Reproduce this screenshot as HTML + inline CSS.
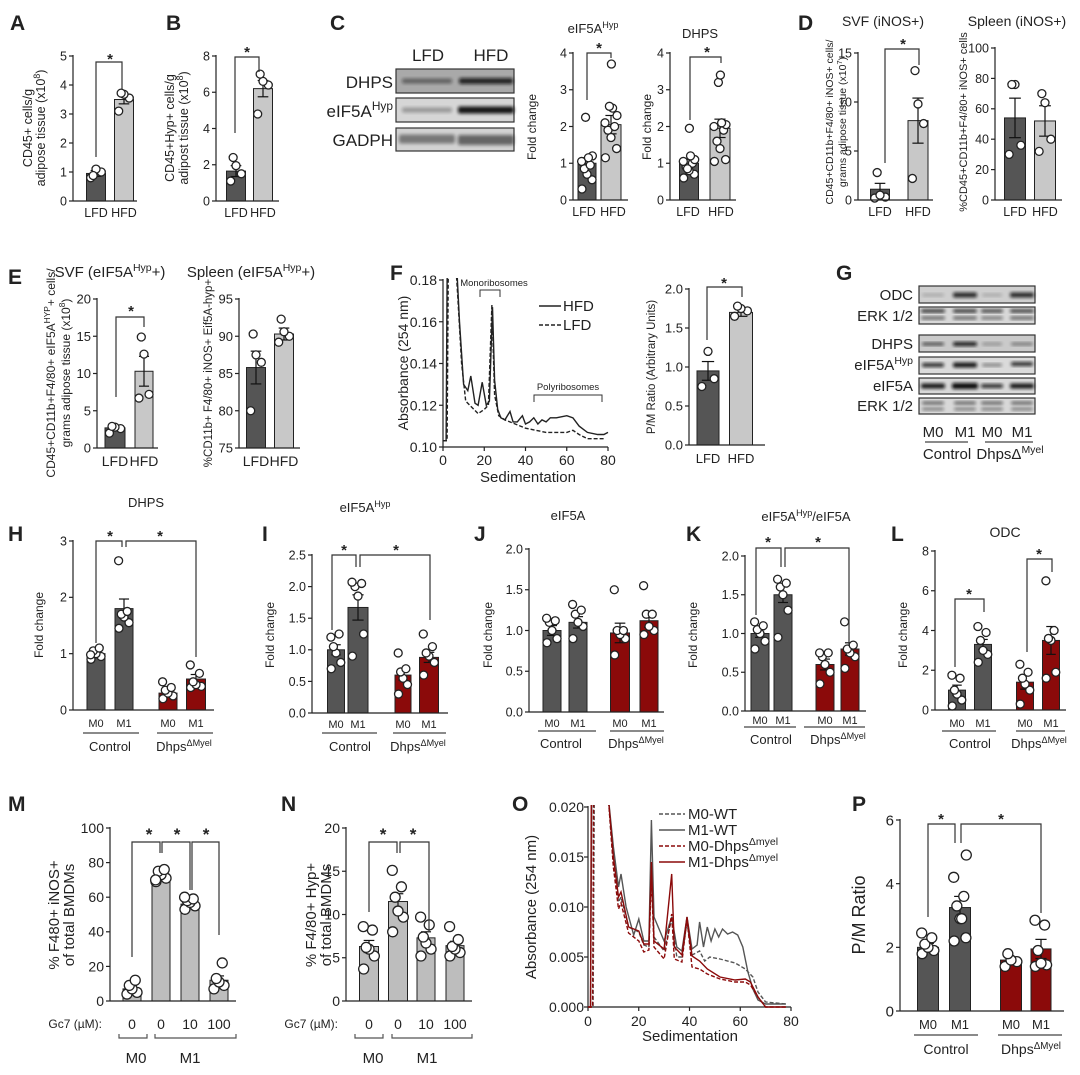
<!DOCTYPE html>
<html><head><meta charset="utf-8"><style>
html,body{margin:0;padding:0;background:#fff}
svg{display:block;font-family:"Liberation Sans",Arial,sans-serif}
</style></head><body>
<svg id="s" xmlns="http://www.w3.org/2000/svg" width="1080" height="1075" viewBox="0 0 1080 1075">
<defs>
<filter id="bl" x="-20%" y="-50%" width="140%" height="200%"><feGaussianBlur stdDeviation="1.6"/></filter>
<clipPath id="cf"><rect x="443" y="278" width="170" height="170"/></clipPath>
<clipPath id="co"><rect x="588" y="805" width="206" height="203"/></clipPath>
</defs>
<rect width="1080" height="1075" fill="#fff"/>
<g id="g"></g>
</svg>
<script>
const S=[];const DK='#555',LT='#c8c8c8',RD='#8b0a0a',MG='#bdbdbd';
function sup(s){return '<tspan baseline-shift="super" font-size="70%">'+s+'</tspan>'}
function T(x,y,s,fs,anc,rot,w){anc=anc||'middle';S.push('<text x="'+x+'" y="'+y+'" font-size="'+fs+'" text-anchor="'+anc+'"'+(w?' font-weight="bold"':'')+(rot?' transform="rotate(-90 '+x+' '+y+')"':'')+' fill="#222">'+s+'</text>')}
function Ln(x1,y1,x2,y2,sw,c,d){S.push('<line x1="'+x1+'" y1="'+y1+'" x2="'+x2+'" y2="'+y2+'" stroke="'+(c||'#222')+'" stroke-width="'+(sw||1)+'"'+(d?' stroke-dasharray="'+d+'"':'')+'/>')}
function Lt(x,y,s){T(x,y,s,21,'start',false,true)}
const DX=[-0.28,0.28,0,-0.15,0.18,-0.3,0.3,0.08,-0.08,0.02];
function chart(o){
 const v0=o.v0||0,fs=o.fs||12.5,r=o.r||4;
 const Y=v=>o.y0-(v-v0)/(o.v1-v0)*(o.y0-o.yt);
 o.bars.forEach(b=>{const[cx,w,v,e,col,pts]=b;const y=Y(v);
  S.push('<rect x="'+(cx-w/2)+'" y="'+y+'" width="'+w+'" height="'+(o.y0-y)+'" fill="'+col+'" stroke="#222" stroke-width="1"/>');
  const ya=Y(v+e),yb=Y(Math.max(v0,v-e));Ln(cx,ya,cx,yb,1.2,'#111');Ln(cx-w*0.28,ya,cx+w*0.28,ya,1.2,'#111');Ln(cx-w*0.28,yb,cx+w*0.28,yb,1.2,'#111');
  pts.forEach((p,i)=>{S.push('<circle cx="'+(cx+DX[i%10]*w)+'" cy="'+Y(p)+'" r="'+r+'" fill="#fff" stroke="#222" stroke-width="1.3"/>')});
 });
 Ln(o.ax,o.yt-1,o.ax,o.y0,1.2);Ln(o.ax,o.y0,o.xe,o.y0,1.2);
 o.ticks.forEach(t=>{const y=Y(t);Ln(o.ax-4,y,o.ax,y,1.2);T(o.ax-6,y+fs*0.35,o.fmt?t.toFixed(o.fmt):t,fs,'end')});
 (o.xl||[]).forEach(l=>T(l[0],o.xly,l[1],o.xlfs||12.5));
 (o.br||[]).forEach(b=>{S.push('<path d="M'+b[0]+' '+b[1]+'V'+b[4]+'H'+b[2]+'V'+b[3]+'" fill="none" stroke="#333" stroke-width="1.2"/>');T(b[5],b[6]+6,'*',o.sfs||15,'middle',false,true)});
 (o.ul||[]).forEach(u=>Ln(u[0],o.uly,u[1],o.uly,1.3,'#444'));
 (o.gl||[]).forEach(g=>T(g[0],o.gly,g[1],o.glfs||13));
}
function blot(x,y1,y2,w,bg,bands){S.push('<rect x="'+x+'" y="'+y1+'" width="'+w+'" height="'+(y2-y1)+'" fill="'+bg+'" stroke="#333" stroke-width="1.2"/>');
 bands.forEach(b=>{S.push('<rect x="'+(b[0]-b[1]/2)+'" y="'+(b[2]-b[3]/2)+'" width="'+b[1]+'" height="'+b[3]+'" rx="2" fill="#111" opacity="'+b[4]+'" filter="url(#bl)"/>')});}
function curve(pts,mx,my,col,dash,sw,clip){S.push('<polyline clip-path="url(#'+clip+')" points="'+pts.map(p=>mx(p[0]).toFixed(1)+','+my(p[1]).toFixed(1)).join(' ')+'" fill="none" stroke="'+col+'" stroke-width="'+(sw||1.4)+'"'+(dash?' stroke-dasharray="'+dash+'"':'')+'/>')}
const DH='Dhps'+sup('ΔMyel');

/* Letters */
Lt(10,30,'A');Lt(166,30,'B');Lt(330,30,'C');Lt(798,30,'D');Lt(8,284,'E');Lt(390,280,'F');Lt(836,280,'G');
Lt(8,541,'H');Lt(262,541,'I');Lt(474,541,'J');Lt(686,541,'K');Lt(891,541,'L');Lt(8,811,'M');Lt(281,811,'N');Lt(512,811,'O');Lt(852,811,'P');

/* A */
chart({ax:73,y0:201,yt:56,v1:5,ticks:[0,1,2,3,4,5],xe:137,bars:[[96,19,0.95,0.1,DK,[0.8,1.0,1.1,0.88]],[124,19,3.5,0.15,LT,[3.1,3.55,3.68,3.72]]],xl:[[96,'LFD'],[124,'HFD']],xly:217,br:[[96,157,122,89,62,110,58]]});
T(32,128,'CD45+ cells/g',12.5,'middle',true);T(45,128,'adipose tissue (x10'+sup('8')+')',12.5,'middle',true);
/* B */
chart({ax:216,y0:201,yt:56,v1:8,ticks:[0,2,4,6,8],xe:279,bars:[[236,19,1.65,0.3,DK,[1.1,1.5,1.95,2.4]],[263,19,6.2,0.45,LT,[4.8,6.4,6.6,7.0]]],xl:[[236,'LFD'],[263,'HFD']],xly:217,br:[[235,133,259,72,57,247,51]]});
T(174,128,'CD45+Hyp+ cells/g',12.5,'middle',true);T(188,128,'adipost tissue (x10'+sup('8')+')',12.5,'middle',true);
/* C blot */
T(428,61,'LFD',17);T(491,61,'HFD',17);
blot(396,69,93,118,'#a9a9a9',[[427,50,81,5,0.45],[486,54,81,6,0.85]]);
blot(396,98,122,118,'#d6d6d6',[[427,50,110,5,0.3],[486,56,110,7,0.95]]);
blot(396,128,151,118,'#d2d2d2',[[427,56,139,9,0.45],[486,56,140,10,0.55]]);
T(393,88,'DHPS',17,'end');T(393,117,'eIF5A'+sup('Hyp'),17,'end');T(393,146,'GADPH',17,'end');
/* C charts */
chart({ax:573,y0:200,yt:53,v1:4,ticks:[0,1,2,3,4],xe:628,bars:[[587,18,1.0,0.15,DK,[0.3,0.55,0.7,0.85,0.95,1.05,1.2,1.15,2.25]],[611,20,2.05,0.25,LT,[1.15,1.4,1.7,1.9,2.0,2.1,2.3,2.5,2.55,3.7]]],xl:[[584,'LFD'],[613,'HFD']],xly:216,br:[[587,100,611,58,53,599,47]]});
T(536,127,'Fold change',12,'middle',true);T(593,33,'eIF5A'+sup('Hyp'),13);
chart({ax:670,y0:200,yt:53,v1:4,ticks:[0,1,2,3,4],xe:736,bars:[[689,19,1.0,0.1,DK,[0.6,0.7,0.8,0.9,1.0,1.05,1.1,1.2,0.85,1.95]],[720,20,1.95,0.25,LT,[1.05,1.1,1.4,1.6,1.9,2.0,2.05,2.1,3.2,3.4]]],xl:[[688,'LFD'],[721,'HFD']],xly:216,br:[[690,120,721,63,57,707,51]]});
T(651,127,'Fold change',12,'middle',true);T(700,38,'DHPS',13);
/* D */
chart({ax:858,y0:200,yt:53,v1:15,ticks:[0,5,10,15],xe:933,bars:[[880,19,1.1,0.6,DK,[0.2,0.3,0.5,2.8]],[918,20,8.1,2.3,LT,[2.2,7.8,9.8,13.2]]],xl:[[880,'LFD'],[918,'HFD']],xly:216,br:[[885,163,919,65,49,903,43]]});
T(833,122,'CD45+CD11b+F4/80+ iNOS+ cells/',10.5,'middle',true);T(846,122,'grams adipose tissue (x10'+sup('7')+')',10.5,'middle',true);T(883,26,'SVF (iNOS+)',14);
chart({ax:995,y0:200,yt:48,v1:100,ticks:[0,20,40,60,80,100],xe:1062,bars:[[1015,21,54,13,DK,[30,36,76,76]],[1045,21,52,10,LT,[32,40,64,70]]],xl:[[1015,'LFD'],[1045,'HFD']],xly:216});
T(967,122,'%CD45+CD11b+F4/80+ iNOS+ cells',11,'middle',true);T(1017,26,'Spleen (iNOS+)',14);
/* E */
chart({ax:97,y0:448,yt:299,v1:20,ticks:[0,5,10,15,20],xe:158,fs:13,bars:[[115,20,2.7,0.3,DK,[2.0,2.6,2.8,2.9]],[144,18,10.3,2,LT,[6.7,7.2,12.6,14.9]]],xl:[[115,'LFD'],[144,'HFD']],xly:466,xlfs:14,br:[[116,397,144,327,317,131,310]]});
T(55,373,'CD45+CD11b+F4/80+ eIF5A'+sup('HYP')+'+ cells/',12,'middle',true);T(70,373,'grams adipose tissue (x10'+sup('8')+')',12,'middle',true);T(110,277,'SVF (eIF5A'+sup('Hyp')+'+)',15);
chart({ax:239,y0:448,yt:299,v0:75,v1:95,ticks:[75,80,85,90,95],xe:300,fs:13,bars:[[256,19,85.8,2.2,DK,[80,86.5,87.5,90.3]],[284,19,90.3,0.8,LT,[89.2,90,90.6,92.3]]],xl:[[256,'LFD'],[284,'HFD']],xly:466,xlfs:14});
T(212,373,'%CD11b+ F4/80+ iNOS+ Eif5A-hyp+',11.5,'middle',true);T(251,277,'Spleen (eIF5A'+sup('Hyp')+'+)',15);
/* F */
{const mx=v=>443+v*2.0625,my=v=>447-(v-0.10)/0.08*167;
Ln(443,279,443,447,1.2);Ln(443,447,608,447,1.2);
[0.10,0.12,0.14,0.16,0.18].forEach(t=>{Ln(439,my(t),443,my(t),1.2);T(437,my(t)+5,t.toFixed(2),14,'end')});
[0,20,40,60,80].forEach(t=>{Ln(mx(t),447,mx(t),451,1.2);T(mx(t),465,t,14)});
const H=[[0,0.103],[1.5,0.103],[2,0.18],[2.4,0.19],[6.5,0.19],[7,0.18],[8,0.16],[10,0.13],[12,0.127],[13.5,0.134],[15.5,0.121],[17,0.12],[19,0.131],[21,0.12],[22.5,0.122],[24,0.167],[25,0.132],[26.5,0.118],[28,0.114],[30,0.113],[32.5,0.117],[34,0.112],[36,0.112],[38.5,0.115],[40,0.111],[42,0.112],[44,0.114],[46,0.111],[48,0.113],[50,0.112],[52,0.114],[55,0.114],[60,0.115],[63,0.114],[66,0.11],[70,0.107],[75,0.106],[78,0.106],[80,0.107]];
const Lf=[[0,0.103],[2,0.103],[2.5,0.18],[2.8,0.19],[6,0.19],[7,0.175],[9,0.14],[11,0.122],[13,0.12],[15,0.118],[17,0.116],[20,0.118],[22,0.12],[23.7,0.168],[25,0.125],[27,0.115],[30,0.113],[35,0.111],[40,0.109],[45,0.108],[50,0.107],[55,0.107],[60,0.107],[63,0.108],[66,0.106],[70,0.104],[78,0.104]];
curve(H,mx,my,'#222','',1.4,'cf');curve(Lf,mx,my,'#222','4 2',1.4,'cf');
Ln(539,306,561,306,1.4);T(563,311,'HFD',15,'start');Ln(539,325,561,325,1.4,'#222','4 2');T(563,330,'LFD',15,'start');
S.push('<path d="M480 297V290H500V297" fill="none" stroke="#333"/>');T(494,286,'Monoribosomes',9.5);
S.push('<path d="M534 402V395H602V402" fill="none" stroke="#333"/>');T(568,390,'Polyribosomes',9.5);
T(408,363,'Absorbance (254 nm)',14,'middle',true);T(528,482,'Sedimentation',15);}
chart({ax:689,y0:445,yt:289,v1:2,fmt:1,ticks:[0,0.5,1,1.5,2],xe:765,fs:13,bars:[[708,22,0.95,0.12,DK,[0.75,0.85,1.2]],[741,23,1.7,0.05,LT,[1.65,1.72,1.75,1.78]]],xl:[[708,'LFD'],[741,'HFD']],xly:463,xlfs:13,br:[[707,340,742,297,287,724,282]]});
T(655,367,'P/M Ratio (Arbitrary Units)',11.5,'middle',true);
/* G */
{const X=[933,965,992,1022];
blot(919,286,303,116,'#cfcfcf',[[933,22,295,3,0.2],[965,24,295,5,0.85],[992,20,295,3,0.2],[1022,24,295,5,0.85]]);
blot(919,307,324,116,'#d8d8d8',[[933,24,311,3,0.9],[965,24,311,3,0.9],[992,22,311,3,0.8],[1022,24,311,3,0.85],[933,24,318,3,0.6],[965,24,318,3,0.6],[992,22,318,3,0.5],[1022,24,318,3,0.6]]);
blot(919,335,352,116,'#cacaca',[[933,22,344,3,0.7],[965,24,344,4,0.95],[992,20,344,3,0.3],[1022,22,344,3,0.45]]);
blot(919,357,374,116,'#dadada',[[933,22,365,4,0.85],[965,24,365,5,0.95],[992,20,365,3,0.45],[1022,22,364,4,0.85]]);
blot(919,378,394,116,'#d8d8d8',[[933,24,386,5,0.95],[965,26,386,6,1],[992,22,386,4,0.85],[1022,24,386,5,0.95]]);
blot(919,398,414,116,'#d8d8d8',[[933,22,403,3,0.6],[965,22,403,3,0.6],[992,22,403,3,0.6],[1022,22,403,3,0.6],[933,22,409,3,0.45],[965,22,409,3,0.45],[992,22,409,3,0.45],[1022,22,409,3,0.45]]);
T(913,300,'ODC',15,'end');T(913,321,'ERK 1/2',15,'end');T(913,349,'DHPS',15,'end');T(913,370,'eIF5A'+sup('Hyp'),15,'end');T(913,391,'eIF5A',15,'end');T(913,411,'ERK 1/2',15,'end');
['M0','M1','M0','M1'].forEach((m,i)=>T(X[i],437,m,15));
Ln(925,442,968,442,1.3,'#444');Ln(985,442,1033,442,1.3,'#444');T(947,459,'Control',15);T(1010,459,'DhpsΔ'+sup('Myel'),15);}
/* H */
chart({ax:73,y0:710,yt:541,v1:3,ticks:[0,1,2,3],xe:214,bars:[[96,18,1.0,0.05,DK,[0.9,0.95,1.0,1.05,1.1,0.98]],[124,18,1.8,0.17,DK,[1.45,1.55,1.65,1.7,1.75,2.65]],[168,18,0.3,0.05,RD,[0.2,0.25,0.3,0.35,0.4,0.5]],[196,19,0.55,0.08,RD,[0.4,0.42,0.45,0.5,0.65,0.8]]],xl:[[96,'M0'],[124,'M1'],[168,'M0'],[196,'M1']],xly:727,xlfs:11,br:[[96,643,122,547,541,110,535],[126,547,196,657,541,160,535]],ul:[[83,139],[157,213]],uly:733,gl:[[110,'Control'],[184,DH]],gly:751});
T(43,625,'Fold change',12,'middle',true);T(146,507,'DHPS',13);
/* I */
chart({ax:312,y0:713,yt:555,v1:2.5,fmt:1,ticks:[0,0.5,1,1.5,2,2.5],xe:448,bars:[[336,17,1.0,0.08,DK,[0.7,0.8,0.95,1.05,1.25,1.2]],[358,20,1.67,0.2,DK,[0.9,1.25,1.85,2.0,2.05,2.07]],[403,16,0.6,0.08,RD,[0.3,0.45,0.55,0.65,0.7,0.95]],[429,19,0.88,0.08,RD,[0.6,0.8,0.9,0.95,1.05,1.25]]],xl:[[336,'M0'],[358,'M1'],[403,'M0'],[429,'M1']],xly:728,xlfs:11,br:[[332,630,356,567,555,344,549],[360,567,430,620,555,396,549]],ul:[[322,377],[393,446]],uly:733,gl:[[350,'Control'],[418,DH]],gly:751});
T(274,635,'Fold change',12,'middle',true);T(365,512,'eIF5A'+sup('Hyp'),13);
/* J */
chart({ax:529,y0:712,yt:549,v1:2,fmt:1,ticks:[0,0.5,1,1.5,2],xe:664,bars:[[552,18,1.0,0.06,DK,[0.85,0.9,1.0,1.1,1.12,1.15]],[578,18,1.1,0.07,DK,[0.9,1.05,1.1,1.2,1.25,1.32]],[620,19,0.97,0.12,RD,[0.7,0.9,0.95,1.0,1.0,1.5]],[649,18,1.12,0.08,RD,[0.95,1.0,1.05,1.2,1.2,1.55]]],xl:[[552,'M0'],[578,'M1'],[620,'M0'],[649,'M1']],xly:727,xlfs:11,ul:[[538,596],[610,664]],uly:731,gl:[[561,'Control'],[636,DH]],gly:748});
T(492,635,'Fold change',12,'middle',true);T(568,520,'eIF5A',13);
/* K */
chart({ax:745,y0:711,yt:556,v1:2,fmt:1,ticks:[0,0.5,1,1.5,2],xe:866,bars:[[760,18,1.0,0.05,DK,[0.8,0.9,1.0,1.05,1.1,1.15]],[783,18,1.5,0.1,DK,[0.95,1.3,1.5,1.6,1.65,1.7]],[825,18,0.6,0.07,RD,[0.35,0.5,0.6,0.7,0.75,0.75]],[850,18,0.8,0.08,RD,[0.55,0.7,0.75,0.8,0.85,1.15]]],xl:[[760,'M0'],[783,'M1'],[825,'M0'],[850,'M1']],xly:724,xlfs:11,br:[[756,615,781,567,548,768,541],[785,567,849,645,548,818,541]],ul:[[744,796],[804,865]],uly:727,gl:[[771,'Control'],[838,DH]],gly:744});
T(697,635,'Fold change',12,'middle',true);T(806,521,'eIF5A'+sup('Hyp')+'/eIF5A',13);
/* L */
chart({ax:935,y0:710,yt:551,v1:8,ticks:[0,2,4,6,8],xe:1066,bars:[[957,17,1.0,0.25,DK,[0.2,0.5,0.8,1.0,1.6,1.75]],[983,17,3.3,0.25,DK,[2.4,2.8,3.0,3.5,3.9,4.2]],[1025,17,1.4,0.35,RD,[0.3,1.0,1.3,1.6,1.9,2.3]],[1051,17,3.5,0.7,RD,[1.6,1.9,3.5,3.6,4.0,6.5]]],xl:[[957,'M0'],[983,'M1'],[1025,'M0'],[1051,'M1']],xly:727,xlfs:11,br:[[955,667,984,612,599,969,593],[1027,652,1052,572,559,1039,553]],ul:[[942,996],[1016,1065]],uly:731,gl:[[970,'Control'],[1039,DH]],gly:748});
T(907,635,'Fold change',12,'middle',true);T(1005,537,'ODC',14);
/* M */
function gc(ax,xs,lab,b1,b2,c1,c2){T(ax,1028,'Gc7 (µM):',12,'end');['0','0','10','100'].forEach((v,i)=>T(xs[i],1029,v,14));
 S.push('<path d="M'+b1[0]+' 1034V1038H'+b1[1]+'V1034M'+b2[0]+' 1034V1038H'+b2[1]+'V1034" fill="none" stroke="#555" stroke-width="1.2"/>');T(c1,1063,'M0',15);T(c2,1063,'M1',15);}
chart({ax:110,y0:1001,yt:828,v1:100,ticks:[0,20,40,60,80,100],fs:14,xe:236,r:5,bars:[[132,18,7,2,MG,[4,5,7,9,12]],[161,18,72,1.2,MG,[69,71,73,75,76,70]],[190,18,56,1.2,MG,[53,55,57,58,59,60]],[219,18,12,2.5,MG,[7,9,11,13,22]]],br:[[132,957,160,853,842,149,834],[162,853,190,890,842,177,834],[192,890,219,935,842,206,834]],sfs:17});
gc(102,[132,161,190,219],0,[119,147],[155,236],136,190);
T(59,915,'% F480+ iNOS+',15,'middle',true);T(74,915,'of total BMDMs',15,'middle',true);
/* N */
chart({ax:346,y0:1001,yt:828,v1:20,ticks:[0,5,10,15,20],fs:14,xe:472,r:5,bars:[[369,19,6.3,0.7,MG,[3.7,5.2,6,6.2,8.2,8.6]],[398,19,11.5,0.9,MG,[8,9.7,10.4,12,13.2,15.1]],[426,18,7.3,0.7,MG,[5.2,6,6.7,7.4,8.8,9.7]],[455,18,6.4,0.5,MG,[5.2,5.6,6,6.3,7.1,8.6]]],br:[[369,912,397,853,842,383,834],[400,853,429,932,842,413,834]],sfs:17});
gc(338,[369,398,426,455],0,[355,383],[392,472],373,427);
T(316,915,'% F4/80+ Hyp+',15,'middle',true);T(331,915,'of total BMDMs',15,'middle',true);
/* O */
{const mx=v=>588+v*2.5375,my=v=>1007-v/0.02*200;
Ln(588,806,588,1007,1.2);Ln(588,1007,791,1007,1.2);
[0,0.005,0.01,0.015,0.02].forEach(t=>{Ln(584,my(t),588,my(t),1.2);T(584,my(t)+5,t.toFixed(3),14,'end')});
[0,20,40,60,80].forEach(t=>{Ln(mx(t),1007,mx(t),1011,1.2);T(mx(t),1026,t,14)});
const W1=[[0,0],[1,0],[1.5,0.021],[8,0.021],[10,0.016],[12,0.012],[13,0.0133],[15,0.01],[18,0.0072],[20,0.0088],[22,0.0066],[24,0.0066],[25,0.0187],[26,0.009],[30,0.0066],[33,0.009],[35,0.006],[37,0.0056],[39,0.009],[41,0.0058],[43,0.0062],[44,0.0085],[45.5,0.006],[47,0.008],[48.5,0.0066],[50,0.0078],[51.5,0.007],[53,0.0078],[55,0.0073],[57,0.0075],[59,0.0072],[61,0.006],[63,0.0035],[65,0.0018],[67,0.0007],[70,0.0003],[78,0.0003]];
const W0=[[0,0],[2,0],[2.5,0.021],[8,0.021],[10,0.014],[12,0.0105],[13,0.011],[16,0.008],[20,0.0075],[22,0.0062],[24,0.006],[25,0.014],[26,0.007],[30,0.0056],[33,0.0088],[35,0.005],[37,0.005],[39,0.0085],[41,0.0052],[44,0.0056],[46,0.0046],[48,0.005],[52,0.0048],[58,0.0044],[62,0.0038],[65,0.003],[67,0.0015],[70,0.0005],[78,0.0003]];
const D1=[[0,0],[1,0],[1.3,0.021],[8,0.021],[10,0.015],[12,0.011],[13,0.0115],[16,0.008],[20,0.0076],[22,0.0063],[24,0.0063],[25,0.0145],[26,0.0066],[30,0.0058],[33,0.0133],[34,0.006],[37,0.0052],[39,0.009],[41,0.0051],[44,0.0046],[47,0.0038],[52,0.003],[58,0.0027],[62,0.0028],[64,0.0025],[67,0.001],[70,0],[78,0]];
const D0=[[0,0],[1.8,0],[2.2,0.021],[8,0.021],[10,0.014],[12,0.0098],[13,0.0104],[16,0.0074],[20,0.0066],[22,0.0055],[24,0.0057],[25,0.013],[26,0.006],[30,0.0048],[33,0.0093],[34,0.0048],[37,0.0045],[39,0.0088],[41,0.004],[44,0.0038],[47,0.0033],[52,0.0028],[58,0.0025],[62,0.0025],[64,0.0022],[67,0.001],[70,0],[78,0]];
curve(W0,mx,my,'#555','4 2',1.4,'co');curve(W1,mx,my,'#555','',1.4,'co');curve(D0,mx,my,RD,'4 2',1.4,'co');curve(D1,mx,my,RD,'',1.4,'co');
Ln(659,814,685,814,1.4,'#555','4 2');T(688,819,'M0-WT',15,'start');
Ln(659,830,685,830,1.4,'#555');T(688,835,'M1-WT',15,'start');
Ln(659,846,685,846,1.4,RD,'4 2');T(688,851,'M0-Dhps'+sup('Δmyel'),15,'start');
Ln(659,862,685,862,1.4,RD);T(688,867,'M1-Dhps'+sup('Δmyel'),15,'start');
T(536,907,'Absorbance (254 nm)',15,'middle',true);T(690,1041,'Sedimentation',15);}
/* P */
chart({ax:900,y0:1011,yt:820,v1:6,ticks:[0,2,4,6],fs:15,xe:1064,r:5,bars:[[928,21,2.0,0.12,DK,[1.8,1.9,2.0,2.1,2.3,2.45]],[960,21,3.25,0.35,DK,[2.2,2.3,2.9,3.3,3.6,4.2,4.9,2.9]],[1011,21,1.6,0.1,RD,[1.4,1.55,1.6,1.8]],[1041,20,1.95,0.3,RD,[1.4,1.45,1.5,1.9,2.7,2.85]]],xl:[[928,'M0'],[960,'M1'],[1011,'M0'],[1041,'M1']],xly:1029,xlfs:13,br:[[928,917,955,843,824,941,818],[961,843,1041,913,824,1001,818]],ul:[[914,978],[998,1062]],uly:1035,gl:[[946,'Control'],[1031,DH]],gly:1054,glfs:14});
T(865,915,'P/M Ratio',18,'middle',true);
document.getElementById('g').innerHTML=S.join('');
</script>
</body></html>
